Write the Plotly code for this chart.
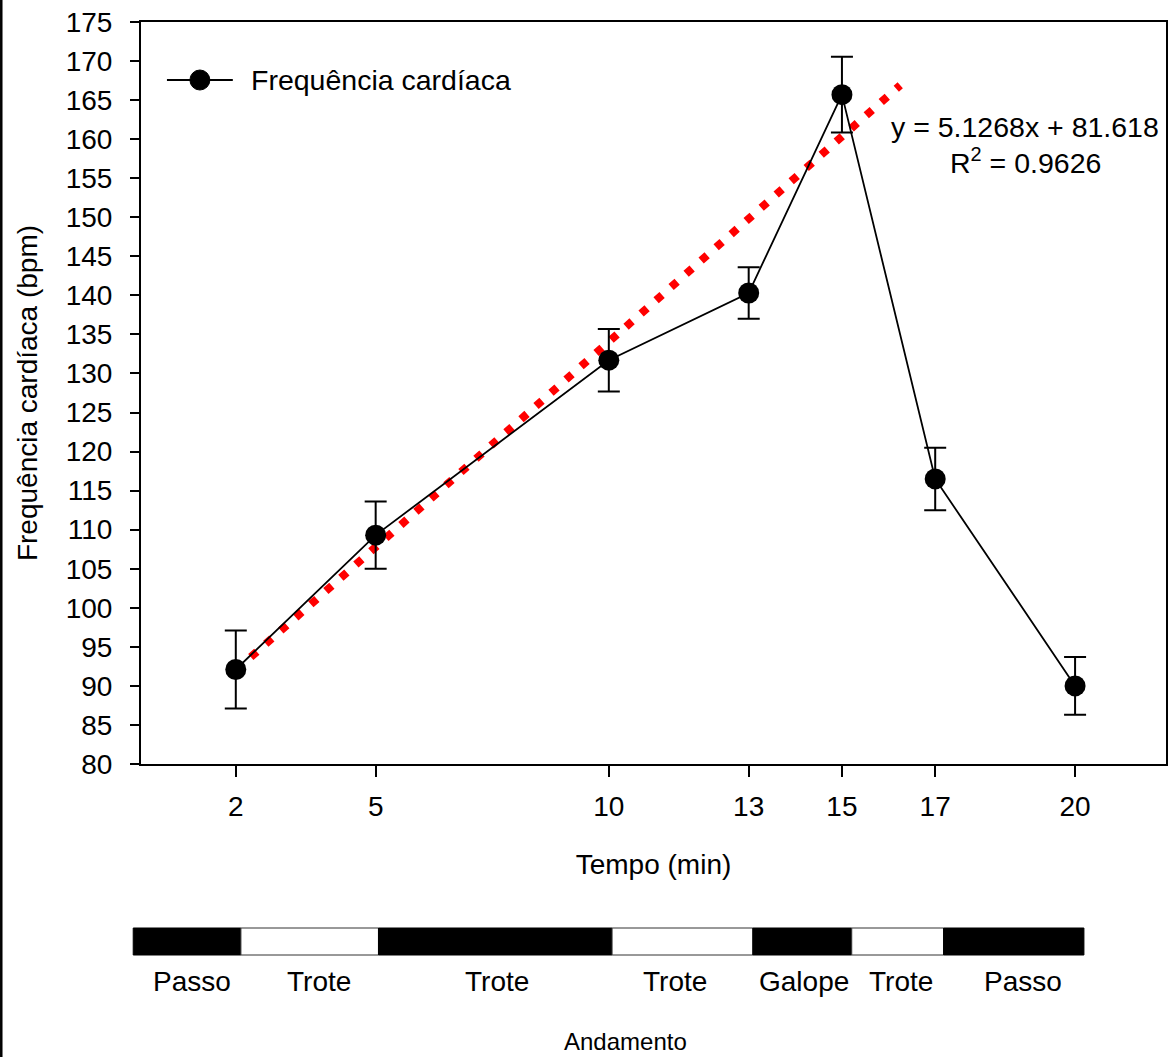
import plotly.graph_objects as go

# ---------------- data ----------------
tempo_min = [2, 5, 10, 13, 15, 17, 20]
fc_media = [92.1, 109.3, 131.7, 140.3, 165.7, 116.5, 90.0]
fc_erro = [5.0, 4.3, 4.0, 3.3, 4.85, 4.0, 3.7]

# dotted trend line as drawn (endpoints)
trend_x = [2.0, 16.25]
trend_y = [92.0, 166.9]
equation_text = "y = 5.1268x + 81.618"
r2_text = "R<sup>2</sup> = 0.9626"

y_ticks = list(range(80, 176, 5))

# gait segments below the chart (limits in minutes)
andamento_limites = [-0.20, 2.11, 5.06, 10.07, 13.09, 15.21, 17.18, 20.19]
andamento_nomes = ["Passo", "Trote", "Trote", "Trote", "Galope", "Trote", "Passo"]
andamento_rotulo_min = [1.06, 3.78, 7.61, 11.42, 14.18, 16.26, 18.89]
andamento_preto = [True, False, True, False, True, False, True]

# ---------------- layout geometry ----------------
W, H = 1171, 1057
ML, MR, MT, MB = 141, 3, 22, 293
PW, PH = W - ML - MR, H - MT - MB
XR = [-0.033, 21.95]
FONT = "Liberation Sans, Arial, sans-serif"


def px_x(p):
    return (p - ML) / PW


def px_y(p):
    return (H - MB - p) / PH


def min_to_paper(m):
    return (m - XR[0]) / (XR[1] - XR[0])


fig = go.Figure()

fig.add_trace(go.Scatter(
    x=trend_x, y=trend_y, mode="lines",
    line=dict(color="#ff0000", width=8, dash="8px,12px"),
    showlegend=False, hoverinfo="skip",
))

fig.add_trace(go.Scatter(
    x=tempo_min, y=fc_media, mode="lines+markers",
    name="Frequência cardíaca",
    line=dict(color="black", width=1.8),
    marker=dict(color="black", size=21),
    error_y=dict(type="data", array=fc_erro, visible=True,
                 color="black", thickness=2, width=11),
    showlegend=False,
))

shapes = []
# left border of the figure
shapes.append(dict(type="line", xref="paper", yref="paper",
                   x0=px_x(1), x1=px_x(1), y0=px_y(0), y1=px_y(H),
                   line=dict(color="black", width=2.5)))

# gait bar
for i, nome in enumerate(andamento_nomes):
    x0 = min_to_paper(andamento_limites[i])
    x1 = min_to_paper(andamento_limites[i + 1])
    preto = andamento_preto[i]
    shapes.append(dict(type="rect", xref="paper", yref="paper",
                       x0=x0, x1=x1, y0=px_y(955), y1=px_y(928),
                       fillcolor="black" if preto else "white",
                       line=dict(color="black" if preto else "#333", width=1)))

# manual legend
shapes.append(dict(type="line", xref="paper", yref="paper",
                   x0=px_x(167), x1=px_x(233), y0=px_y(80), y1=px_y(80),
                   line=dict(color="black", width=1.8)))
shapes.append(dict(type="circle", xref="paper", yref="paper",
                   x0=px_x(190), x1=px_x(210), y0=px_y(90), y1=px_y(70),
                   fillcolor="black", line=dict(color="black", width=1)))

annotations = [
    dict(text="Frequência cardíaca", xref="paper", yref="paper",
         x=px_x(249), y=px_y(80), xanchor="left", yanchor="middle",
         showarrow=False, font=dict(size=28.5, color="black", family=FONT)),
    dict(text=equation_text, xref="paper", yref="paper",
         x=px_x(1027), y=px_y(127), xanchor="center", yanchor="middle",
         showarrow=False, font=dict(size=28.5, color="black", family=FONT)),
    dict(text=r2_text, xref="paper", yref="paper",
         x=px_x(1027), y=px_y(161), xanchor="center", yanchor="middle",
         showarrow=False, font=dict(size=28.5, color="black", family=FONT)),
    dict(text="Andamento", xref="paper", yref="paper",
         x=px_x(626), y=px_y(1041), xanchor="center", yanchor="middle",
         showarrow=False, font=dict(size=24, color="black", family=FONT)),
]
for nome, xm in zip(andamento_nomes, andamento_rotulo_min):
    annotations.append(dict(text=nome, xref="paper", yref="paper",
                            x=min_to_paper(xm), y=px_y(982),
                            xanchor="center", yanchor="middle",
                            showarrow=False,
                            font=dict(size=28, color="black", family=FONT)))

axis_common = dict(
    showgrid=False, zeroline=False, showline=True, linecolor="black",
    linewidth=2, mirror=True, ticks="outside", tickcolor="black",
    tickwidth=2, tickfont=dict(size=28, color="black", family=FONT),
)

fig.update_layout(
    width=W, height=H,
    margin=dict(l=ML, r=MR, t=MT, b=MB),
    paper_bgcolor="white", plot_bgcolor="white",
    font=dict(family=FONT, color="black"),
    showlegend=False,
    xaxis=dict(range=XR, tickmode="array", tickvals=tempo_min,
               ticktext=[str(v) for v in tempo_min], ticklen=11,
               ticklabelstandoff=5,
               title=dict(text="Tempo (min)", standoff=34,
                          font=dict(size=28, color="black", family=FONT)),
               **axis_common),
    yaxis=dict(range=[80, 175], tickmode="array", tickvals=y_ticks,
               ticktext=[str(v) for v in y_ticks], ticklen=9,
               ticklabelstandoff=12,
               title=dict(text="Frequência cardíaca (bpm)", standoff=20,
                          font=dict(size=28, color="black", family=FONT)),
               **axis_common),
    shapes=shapes,
    annotations=annotations,
)

fig.write_html(
    "out.html",
    config={"displayModeBar": False},
    post_script="document.body.style.margin='0';document.body.style.overflow='hidden';",
)
